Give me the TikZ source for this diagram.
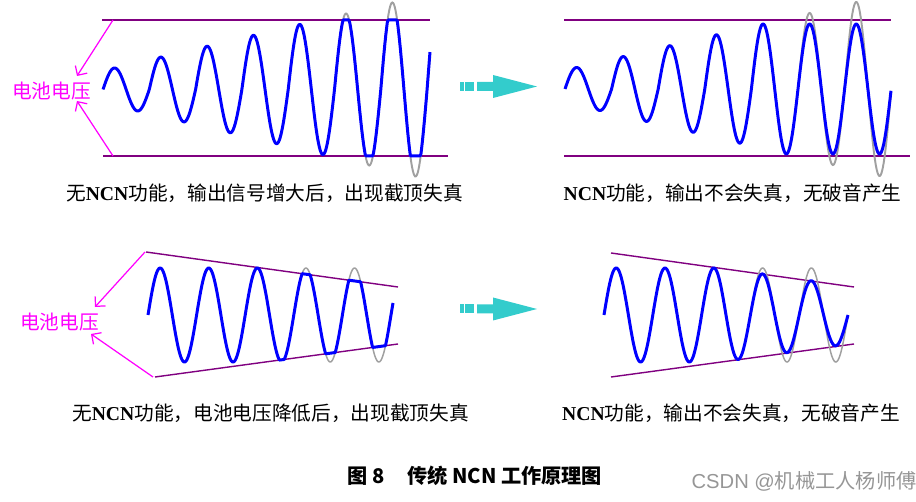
\documentclass[tikz,border=0pt]{standalone}
\usepackage{fontspec}
\setmainfont{Liberation Serif}
\newfontfamily\cjk{Noto Sans CJK SC}
\newfontfamily\latinsans{Liberation Sans}
\usepackage{tikz}
\usetikzlibrary{arrows.meta}
\definecolor{railpurple}{RGB}{128,0,128}
\definecolor{ghostgray}{RGB}{160,160,160}
\definecolor{flowcyan}{RGB}{51,204,204}
\definecolor{voltmagenta}{RGB}{255,0,255}
\definecolor{wmgray}{RGB}{150,150,150}
\newcommand{\ncn}{{\bfseries NCN}}
\newcommand{\capfont}{\fontsize{11.2pt}{13pt}\selectfont}
\tikzset{
	rail/.style={draw=railpurple,line width=1.1pt},
	railthin/.style={draw=railpurple,line width=0.8pt},
	signal/.style={draw=blue,line width=1.7pt,line join=round},
	ghost/.style={draw=ghostgray,line width=1.1pt},
	ghostthin/.style={draw=ghostgray,line width=0.85pt},
	volt/.style={draw=voltmagenta,line width=0.7pt,-{Straight Barb[length=4pt,width=8pt]}},
	voltlabel/.style={text=voltmagenta,font=\capfont\cjk,inner sep=0pt},
	caption/.style={font=\capfont,inner sep=0pt},
	figtitle/.style={font=\fontsize{11.5pt}{13pt}\selectfont\cjk\bfseries,inner sep=0pt},
	watermark/.style={text=wmgray,font=\fontsize{11.5pt}{13pt}\selectfont\cjk,inner sep=0pt}
}
% cyan "leads to" arrow, centred on height #1
\newcommand{\flowarrow}[1]{%
	\begin{scope}[shift={(0,#1)}]
		\fill[flowcyan] (460,-4.5) rectangle (464,4.5);
		\fill[flowcyan] (465,-4.5) rectangle (474,4.5);
		\fill[flowcyan] (477,-4.5) -- (493,-4.5) -- (493,-11.5) -- (537,0)
			-- (493,11.5) -- (493,4.5) -- (477,4.5) -- cycle;
	\end{scope}}

\begin{document}
\begin{tikzpicture}[x=0.02cm,y=-0.02cm]
	\useasboundingbox (0,0) rectangle (916,502);

	% ==================================================
	% 1. TOP LEFT: GROWING SIGNAL, CLIPPED BY THE RAILS
	% ==================================================
	\coordinate (TL1) at (102,20);  \coordinate (TL2) at (430,20);
	\coordinate (BL1) at (103,156); \coordinate (BL2) at (448,156);
	\draw[rail] (TL1) -- (TL2);
	\draw[rail] (BL1) -- (BL2);

	% unclipped last two cycles
	\draw[ghost] plot[domain=232:327,samples=117]
		({103+\x},{89.5-(76+11*(\x>277.8))*sin(\x/46.3*360)});
	\draw[signal] plot[domain=0:327,samples=400]
		({103+\x},{max(20,min(156,89.5-(21.5+10.9*floor(\x/46.3))*sin(\x/46.3*360)))});

	% battery voltage label
	\node[voltlabel] (voltA) at (51.5,91) {电池电压};
	\coordinate (voltA1) at (113,20);  \coordinate (tipA1) at (77,76);
	\coordinate (voltA2) at (113,156); \coordinate (tipA2) at (77,101);
	\draw[volt] (voltA1) -- (tipA1);
	\draw[volt] (voltA2) -- (tipA2);

	\node[caption] (capA) at (264.5,193) {{\cjk 无}\ncn{\cjk 功能，输出信号增大后，出现截顶失真}};

	% ==================================================
	% 2. TOP RIGHT: WITH NCN, AMPLITUDE LIMITED
	% ==================================================
	\flowarrow{86.5}
	\coordinate (TR1) at (564,20);  \coordinate (TR2) at (891,20);
	\coordinate (BR1) at (564,156); \coordinate (BR2) at (910,156);
	\draw[rail] (TR1) -- (TR2);
	\draw[rail] (BR1) -- (BR2);

	\draw[ghost] plot[domain=233.4:326,samples=117]
		({565+\x},{89-(76+11*(\x>279.6))*sin(\x/46.6*360)});
	\draw[signal] plot[domain=0:326,samples=400]
		({565+\x},{89-min(65,21.5+10.9*floor(\x/46.6))*sin(\x/46.6*360)});

	\node[caption] (capB) at (732.5,193) {\ncn{\cjk 功能，输出不会失真，无破音产生}};

	% ==================================================
	% 3. BOTTOM LEFT: FALLING BATTERY VOLTAGE, CLIPPED
	% ==================================================
	\coordinate (TL3) at (146,252); \coordinate (TL4) at (398,287);
	\coordinate (BL3) at (155,377); \coordinate (BL4) at (398,344);
	\draw[railthin] (TL3) -- (TL4);
	\draw[railthin] (BL3) -- (BL4);

	\draw[ghostthin] plot[domain=290:393,samples=120]
		({\x},{315-47*sin((\x-148)/48.6*360)});
	\draw[signal] plot[domain=148:393,samples=400]
		({\x},{max(252+(\x-146)/252*35,min(377-(\x-155)/243*33,315-47*sin((\x-148)/48.6*360)))});

	\node[voltlabel] (voltB) at (59.5,322) {电池电压};
	\coordinate (voltB1) at (145,252); \coordinate (tipB1) at (95,307);
	\coordinate (voltB2) at (153,377); \coordinate (tipB2) at (91,334);
	\draw[volt] (voltB1) -- (tipB1);
	\draw[volt] (voltB2) -- (tipB2);

	\node[caption] (capC) at (270.5,413) {{\cjk 无}\ncn{\cjk 功能，电池电压降低后，出现截顶失真}};

	% ==================================================
	% 4. BOTTOM RIGHT: WITH NCN, FOLLOWS THE RAILS
	% ==================================================
	\flowarrow{309}
	\coordinate (TR3) at (611,253); \coordinate (TR4) at (854,287);
	\coordinate (BR3) at (611,377); \coordinate (BR4) at (854,344);
	\draw[railthin] (TR3) -- (TR4);
	\draw[railthin] (BR3) -- (BR4);

	\draw[ghostthin] plot[domain=750:848,samples=120]
		({\x},{315-47*sin((\x-604)/48.8*360)});
	\draw[signal] plot[domain=604:848,samples=400]
		({\x},{315-min(47,41-0.14*(\x-763))*sin((\x-604)/48.8*360)});

	\node[caption] (capD) at (731,413) {\ncn{\cjk 功能，输出不会失真，无破音产生}};

	% ==================================================
	% 5. FIGURE TITLE
	% ==================================================
	\node[figtitle] (fig) at (475,476) {图 8\hspace{1.1em}传统 NCN 工作原理图};
	\node[watermark] (wm) at (804,481) {{\latinsans CSDN @}机械工人杨师傅};

\end{tikzpicture}
\end{document}
